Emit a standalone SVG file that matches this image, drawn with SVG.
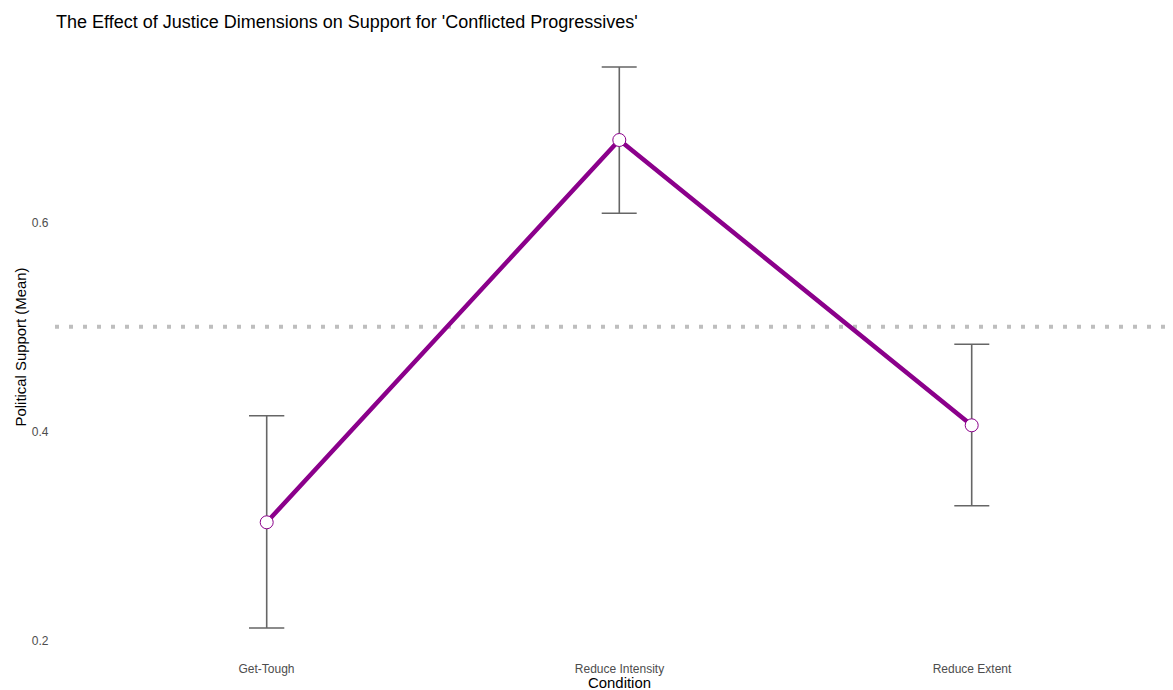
<svg xmlns="http://www.w3.org/2000/svg" width="1173" height="690" viewBox="0 0 1173 690">
<style>
text{font-family:"Liberation Sans",Arial,sans-serif}
.tick{font-size:12px;fill:#4d4d4d}
.axt{font-size:14.9px;fill:#000}
.eb{stroke:#666;stroke-width:1.6;fill:none}
.pt{fill:#fff;stroke:#8b008b;stroke-width:1}
</style>
<rect width="1173" height="690" fill="#fff"/>
<text x="56" y="28" style="font-size:18px" fill="#000">The Effect of Justice Dimensions on Support for 'Conflicted Progressives'</text>
<g id="y-axis">
<text class="tick" x="48.5" y="226.7" text-anchor="end">0.6</text>
<text class="tick" x="48.5" y="435.5" text-anchor="end">0.4</text>
<text class="tick" x="48.5" y="644.5" text-anchor="end">0.2</text>
<text class="axt" transform="translate(25.5,347) rotate(-90)" text-anchor="middle">Political Support (Mean)</text>
</g>
<g id="x-axis">
<text class="tick" x="266.5" y="672.5" text-anchor="middle">Get-Tough</text>
<text class="tick" x="619.5" y="672.5" text-anchor="middle">Reduce Intensity</text>
<text class="tick" x="972" y="672.5" text-anchor="middle">Reduce Extent</text>
<text class="axt" x="619.5" y="688" text-anchor="middle">Condition</text>
</g>
<line id="reference-line" x1="55" y1="326.7" x2="1173" y2="326.7" stroke="#bebebe" stroke-width="4" stroke-dasharray="4 10"/>
<g id="connectors">
<polyline points="266.7,522.3 619.3,140 971.7,425.3" fill="none" stroke="#8b008b" stroke-width="4.5" stroke-linejoin="round"/>
</g>
<g id="node-get-tough">
<path class="eb" d="M249,415.7H284.3M266.7,415.7V628M249,628H284.3"/>
<circle class="pt" cx="266.7" cy="522.3" r="6.5"/>
</g>
<g id="node-reduce-intensity">
<path class="eb" d="M601.7,67H636.7M619.3,67V213.3M601.7,213.3H636.7"/>
<circle class="pt" cx="619.3" cy="140" r="6.5"/>
</g>
<g id="node-reduce-extent">
<path class="eb" d="M954.3,344.3H989.3M971.7,344.3V505.7M954.3,505.7H989.3"/>
<circle class="pt" cx="971.7" cy="425.3" r="6.5"/>
</g>
</svg>
